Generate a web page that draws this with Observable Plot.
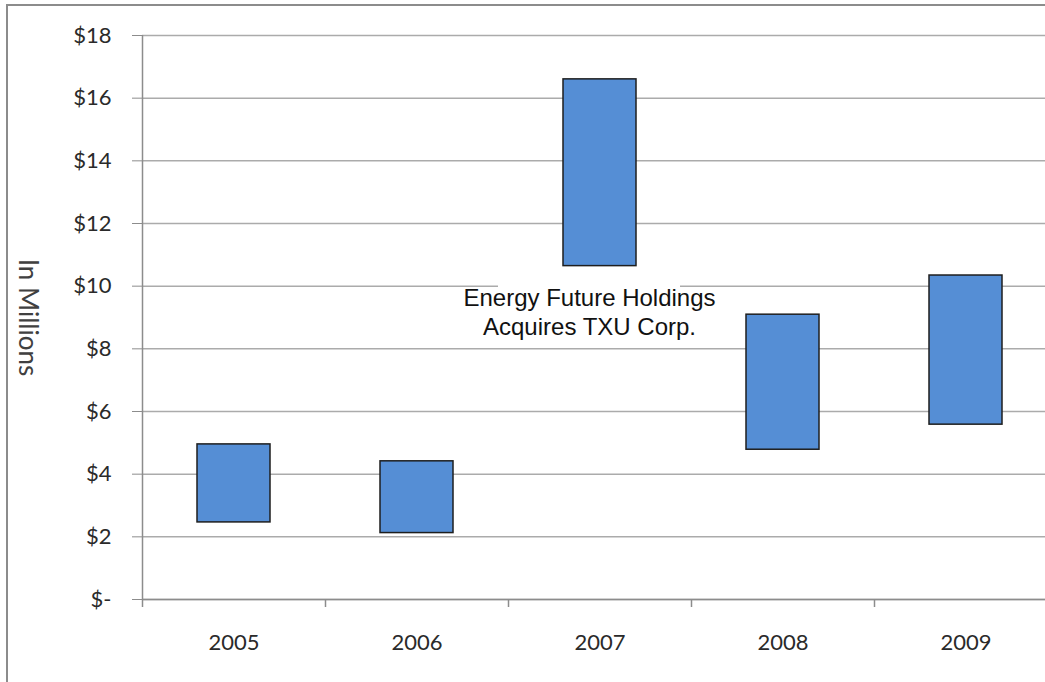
<!DOCTYPE html>
<html>
<head>
<meta charset="utf-8">
<script src="https://cdn.jsdelivr.net/npm/d3@7"></script>
<script src="https://cdn.jsdelivr.net/npm/@observablehq/plot@0.6"></script>
<style>
  html, body { margin: 0; padding: 0; background: #fff; overflow: hidden; }
  #wrap { position: relative; width: 1045px; height: 682px; overflow: hidden; }
  #border { position: absolute; left: 6px; top: 4px; right: -4px; bottom: -4px;
            border-left: 2px solid #8c8c8c; border-top: 2px solid #8c8c8c; pointer-events: none; }
  #chart { position: absolute; left: 0; top: 0; }
</style>
</head>
<body>
<div id="wrap"><div id="chart"></div><div id="border"></div></div>
<script>
// ---- data ----
const years = ["2005", "2006", "2007", "2008", "2009"];
const lows  = [2.46, 2.12, 10.64, 4.78, 5.58];
const highs = [4.95, 4.41, 16.60, 9.09, 10.34];
const yTicks = [0, 2, 4, 6, 8, 10, 12, 14, 16, 18];
const yTickLabels = ["$-", "$2", "$4", "$6", "$8", "$10", "$12", "$14", "$16", "$18"];
const yAxisLabel = "In Millions";
const annotationText = ["Energy Future Holdings", "Acquires TXU Corp."];
const annotationYear = "2007";
const annotationCenter = 9.19;
const annotationTop = 10.5;
const annotationBottom = 8.2;

const rows = years.map((y, i) => ({year: y, low: lows[i], high: highs[i]}));
const note = [{year: annotationYear, text: annotationText.join("\n"), y: annotationCenter, top: annotationTop, bottom: annotationBottom}];

const tickFont = "Lato, 'Open Sans', sans-serif";

const chart = Plot.plot({
  width: 1045,
  height: 682,
  marginLeft: 142,
  marginRight: 0,
  marginTop: 35,
  marginBottom: 83,
  style: {background: "transparent", overflow: "visible"},
  x: {domain: years, range: [142, 1057], paddingInner: 0.6, paddingOuter: 0.3, axis: null},
  y: {domain: [0, 18], axis: null},
  marks: [
    Plot.gridY(yTicks, {stroke: "#ababab", strokeOpacity: 1, strokeWidth: 1.5}),
    // annotation background box
    Plot.barY(note, {x: "year", y1: "bottom", y2: "top", fill: "white", insetLeft: -65, insetRight: -44}),
    // axis lines
    Plot.ruleY([0], {stroke: "#8c8c8c", strokeWidth: 1.5}),
    Plot.ruleX([years[0]], {y1: 0, y2: 18, dx: -91.5, stroke: "#8c8c8c", strokeWidth: 1.5}),
    // y axis ticks and labels
    Plot.axisY({ticks: yTicks, tickSize: 10, tickPadding: 21,
      tickFormat: d => yTickLabels[yTicks.indexOf(d)],
      stroke: "#8c8c8c", fill: "#2a2a2a", fontSize: 22, fontFamily: tickFont, label: null}),
    // x boundary ticks
    Plot.axisX({tickSize: 8, tickFormat: () => "", dx: -91.5, stroke: "#8c8c8c", strokeWidth: 1.5, label: null}),
    // x labels
    Plot.axisX({tickSize: 0, tickPadding: 35, fill: "#2a2a2a", fontSize: 22, fontFamily: tickFont, label: null}),
    // bars
    Plot.barY(rows, {x: "year", y1: "low", y2: "high", fill: "#558ed5", stroke: "#1e1e1e", strokeWidth: 1.5}),
    // annotation text
    Plot.text(note, {x: "year", y: "y", text: "text", dx: -10.5, fontSize: 24, lineHeight: 1.17,
      fontFamily: "'Liberation Sans', Arial, sans-serif", fill: "#111"}),
    // y axis title
    Plot.text([yAxisLabel], {frameAnchor: "left", textAnchor: "middle", dx: -115, rotate: 90, fontSize: 26,
      fontFamily: tickFont, fill: "#404040"})
  ]
});
document.getElementById("chart").appendChild(chart);
</script>
</body>
</html>
